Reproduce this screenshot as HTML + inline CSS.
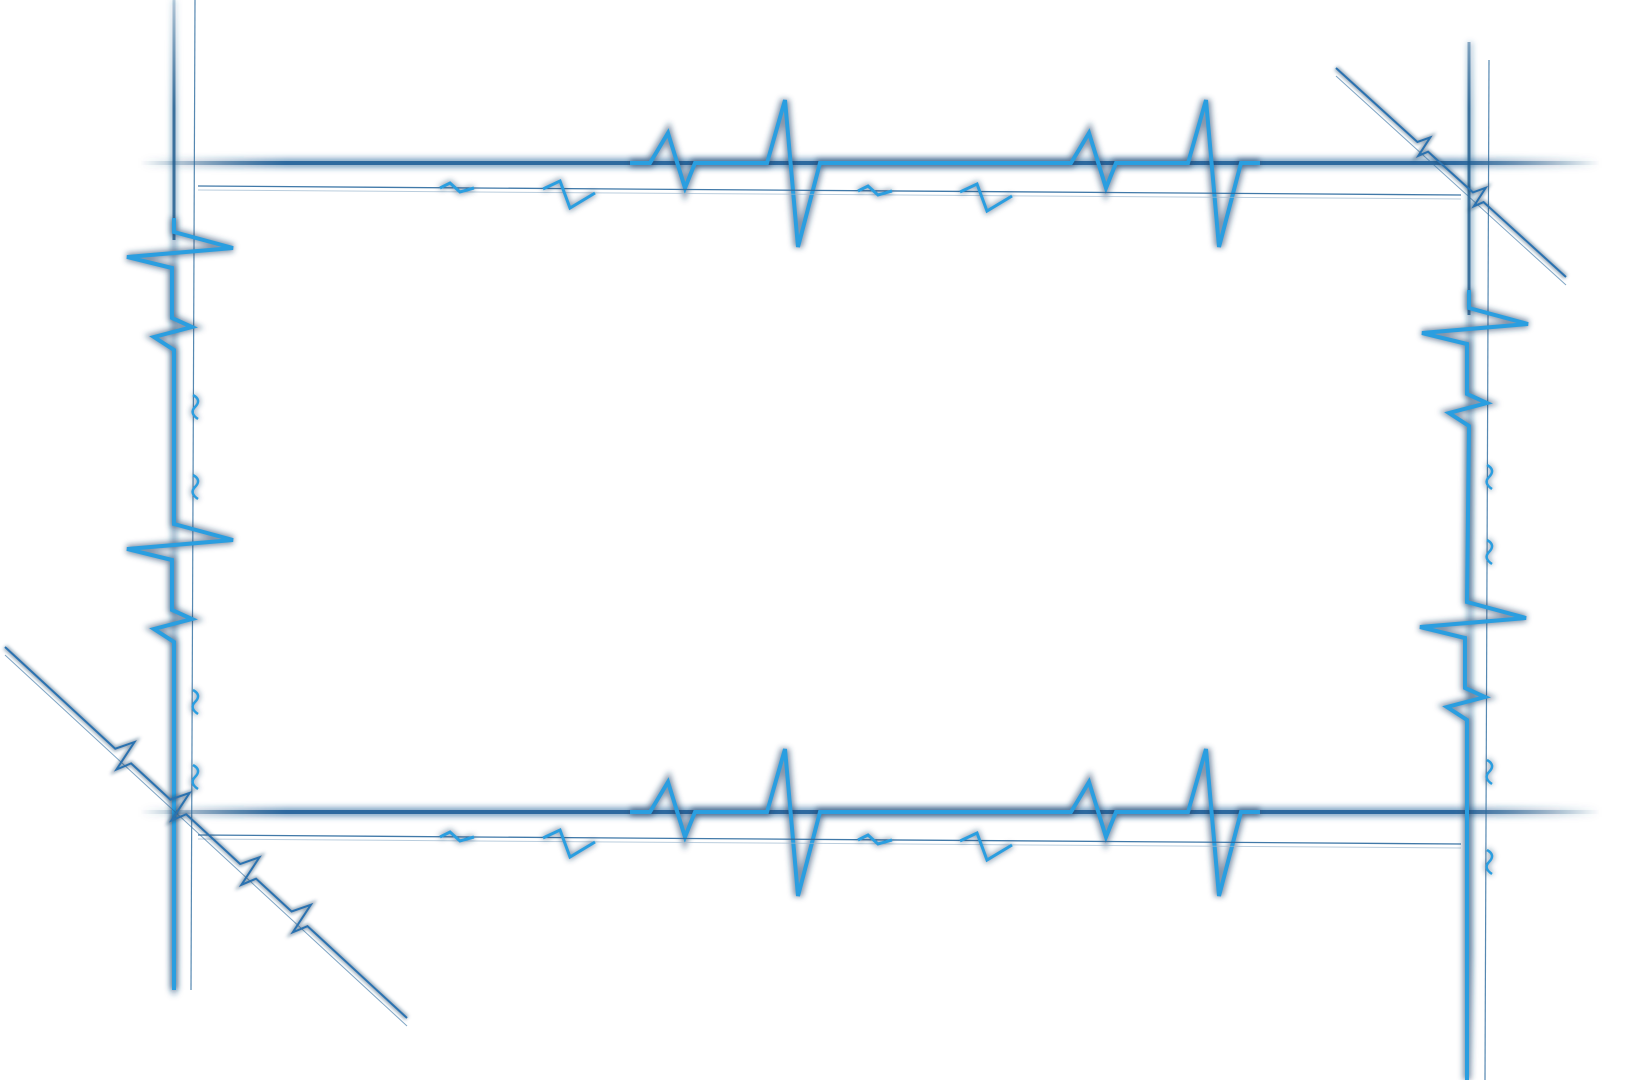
<!DOCTYPE html>
<html><head><meta charset="utf-8"><style>
html,body{margin:0;padding:0;background:#fff;width:1636px;height:1080px;overflow:hidden}
svg{display:block}
</style></head><body>
<svg id="frame" width="1636" height="1080" viewBox="0 0 1636 1080" xmlns="http://www.w3.org/2000/svg">
<defs>
<filter id="soft" filterUnits="userSpaceOnUse" x="0" y="0" width="1636" height="1080"><feGaussianBlur stdDeviation="1.5"/></filter>
<filter id="lglow" filterUnits="userSpaceOnUse" x="0" y="0" width="1636" height="1080"><feGaussianBlur stdDeviation="3"/></filter>
<linearGradient id="hfade" gradientUnits="userSpaceOnUse" x1="140" x2="1600" y1="0" y2="0">
<stop offset="0" stop-color="#1d4f7a" stop-opacity="0"/><stop offset="0.1" stop-color="#22619a" stop-opacity="0.9"/>
<stop offset="0.9" stop-color="#22619a" stop-opacity="0.9"/><stop offset="1" stop-color="#1d4f7a" stop-opacity="0"/></linearGradient>
<linearGradient id="vfade" gradientUnits="userSpaceOnUse" x1="0" x2="0" y1="0" y2="1080">
<stop offset="0" stop-color="#1d5c8e" stop-opacity="0.3"/><stop offset="0.1" stop-color="#1d5c8e" stop-opacity="0.9"/>
<stop offset="0.88" stop-color="#1d5c8e" stop-opacity="0.9"/><stop offset="1" stop-color="#1d5c8e" stop-opacity="0"/></linearGradient>
</defs>
<g id="layer"></g>
</svg>
<script>
// heartbeat template offsets (along axis, perpendicular amplitude)
const bigPulseAlong = [0, 18, 35, 45, 117, 135, 148, 170];
const bigPulseAmp = [0, -30, 25, 0, 0, -63, 84, 0];
const sidePulseAlong = [0, 16, 25, 36, 86, 95, 105, 118];
const sidePulseAmp = [0, 59, -47, -2, -2, 18, -20, 0];
const smallAlong = [0, 17, 27, 52];
const smallAmp = [0, -8, 19, 4];

const layer = document.getElementById('layer');
const NS = 'http://www.w3.org/2000/svg';
function mk(tag, attrs){const e=document.createElementNS(NS,tag);for(const k in attrs)e.setAttribute(k,attrs[k]);return e;}
function stroked(d, name, w, glowW){
  const g = mk('g',{});
  
  
  g.appendChild(mk('path',{d:d,fill:'none',stroke:'#1c3f66','stroke-width':glowW,'stroke-opacity':0.55,filter:'url(#lglow)'}));
  g.appendChild(mk('path',{d:d,fill:'none',stroke:'#2a9ee0','stroke-width':w}));
  layer.appendChild(g);
}
function line(x1,y1,x2,y2,name,stroke,w,op,filt){
  const l = mk('line',{x1:x1,y1:y1,x2:x2,y2:y2,stroke:stroke,'stroke-width':w,'stroke-opacity':op});
  if(filt) l.setAttribute('filter',filt);
  
  
  layer.appendChild(l);
}
function hPulse(x0,y0,along,amp,scale){
  return along.map((a,i)=>`L${x0+a*scale},${y0+amp[i]*scale}`).join(' ');
}
function vPulse(x0,y0,along,amp){
  return along.map((a,i)=>`L${x0+amp[i]},${y0+a}`).join(' ');
}
function dPulse(x0,y0,ux,uy,along,amp,scale){
  const nx=-uy, ny=ux;
  return along.map((a,i)=>`L${x0+ux*a*scale+nx*amp[i]*scale},${y0+uy*a*scale+ny*amp[i]*scale}`).join(' ');
}

line(140,163,1600,163,'top-line-glow','url(#hfade)',10,0.6,'url(#lglow)');
line(140,812,1600,812,'bottom-line-glow','url(#hfade)',10,0.6,'url(#lglow)');
line(174,0,174,995,'left-line-glow','url(#vfade)',6,0.5,'url(#lglow)');
line(1470,42,1470,1080,'right-line-glow','url(#vfade)',6,0.5,'url(#lglow)');

[163,812].forEach((y,k)=>{
  const p=(k?'bottom':'top');
  line(140,y,1600,y,p+'-baseline','url(#hfade)',4,1,null);
  let d=`M630,${y} L650,${y} `+hPulse(650,y,bigPulseAlong,bigPulseAmp,1)+` `+hPulse(1071,y,bigPulseAlong,bigPulseAmp,1)+` L1260,${y}`;
  stroked(d,p+'-heartbeat',4,9);
  const ty=y+23;
  line(198,ty,1461,ty+9,p+'-thin-line','#2c6a9e',1.3,0.9,null);
  line(198,ty+4,1461,ty+13,p+'-thin-line-2','#9db8cf',1,0.7,null);
  let sd=`M440,${ty+2} `+hPulse(440,ty+2,[0,10,20,34],[0,-5,4,0],1)+` M543,${ty+3} `+hPulse(543,ty+3,smallAlong,smallAmp,1)
    +` M858,${ty+5} `+hPulse(858,ty+5,[0,10,20,34],[0,-5,4,0],1)+` M960,${ty+6} `+hPulse(960,ty+6,smallAlong,smallAmp,1);
  stroked(sd,p+'-thin-waves',3,5);
});

line(195,0,191,990,'left-thin-line','#2c6a9e',1.2,0.8,null);
line(1489,60,1485,1080,'right-thin-line','#2c6a9e',1.2,0.8,null);
line(174,0,174,240,'left-line-top','url(#vfade)',3,0.9,null);
line(1469,42,1469,315,'right-line-top','url(#vfade)',3,0.9,null);
let ld='M174,218 L174,232 '+vPulse(174,232,sidePulseAlong,sidePulseAmp)+' L174,524 '+vPulse(174,524,sidePulseAlong,sidePulseAmp)+' L174,990';
stroked(ld,'left-heartbeat',4,8);
let rd='M1469,290 L1469,308 '+vPulse(1469,308,sidePulseAlong,sidePulseAmp)+' L1467,602 '+vPulse(1467,602,sidePulseAlong,sidePulseAmp)+' L1467,1080';
stroked(rd,'right-heartbeat',4,8);
[[193,395],[193,475],[193,690],[193,765],[1487,465],[1487,540],[1487,760],[1487,850]].forEach((p,i)=>{
  const d=`M${p[0]},${p[1]} q9,5 2,12 q-6,6 3,12`;
  stroked(d,'side-squiggle',2.5,4);
});

function diag(x1,y1,x2,y2,pulses,name,scale){
  const L=Math.hypot(x2-x1,y2-y1), ux=(x2-x1)/L, uy=(y2-y1)/L;
  line(x1,y1+8,x2,y2+8,name+'-thin','#2c6a9e',1,0.6,null);
  let d=`M${x1},${y1}`;
  pulses.forEach(t=>{const px=x1+ux*t, py=y1+uy*t; d+=` L${px},${py} `+dPulse(px,py,ux,uy,[0,16,25,36,60],[0,-30,24,0,0],scale);});
  d+=` L${x2},${y2}`;
  const g=mk('g',{});
  
  
  g.appendChild(mk('path',{d:d,fill:'none',stroke:'#1c3f66','stroke-width':5,'stroke-opacity':0.45,filter:'url(#soft)'}));
  g.appendChild(mk('path',{d:d,fill:'none',stroke:'#2a72b0','stroke-width':2}));
  layer.appendChild(g);
}
diag(5,647,407,1018,[150,225,320,390],'bottom-left-diagonal',0.6);
diag(1336,68,1566,277,[110,185],'top-right-diagonal',0.4);
</script>
</body></html>
